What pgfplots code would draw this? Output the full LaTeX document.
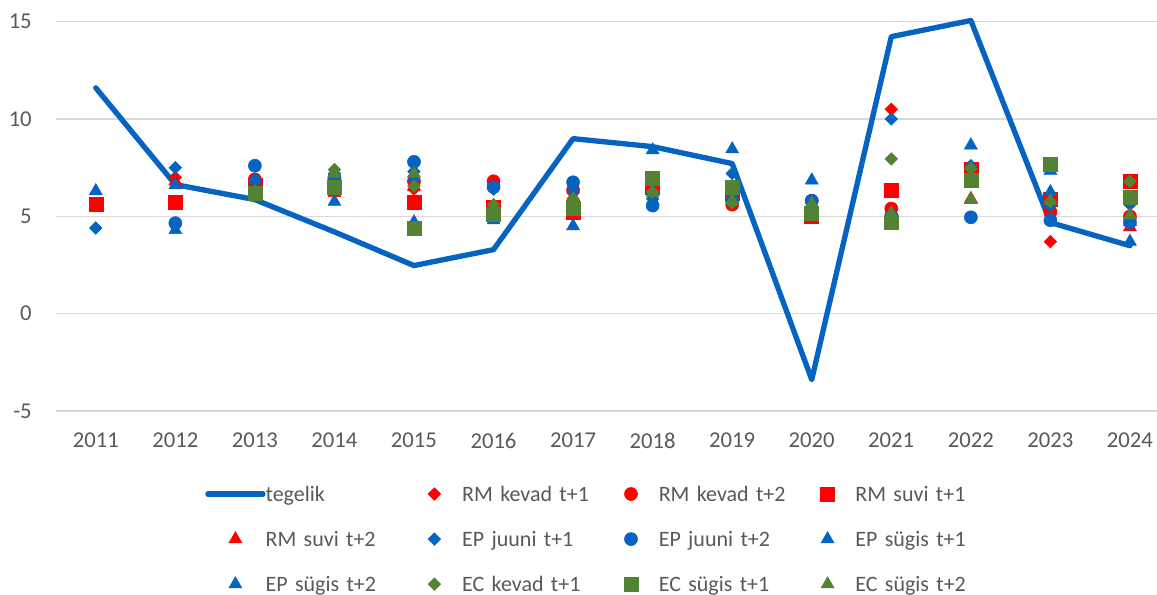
\documentclass[border=0pt]{standalone}
\usepackage{fontspec}
\setmainfont{Carlito}
\usepackage{pgfplots}
\pgfplotsset{compat=1.18}
\definecolor{cblue}{HTML}{0563C1}
\definecolor{cgreen}{HTML}{548235}
\definecolor{cred}{HTML}{FF0000}
\definecolor{ctext}{HTML}{595959}
\definecolor{cgrid}{HTML}{D9D9D9}
\begin{document}
\begin{tikzpicture}
\path[use as bounding box] (-42pt,-138pt) rectangle (825.75pt,308.25pt);
\begin{axis}[
  at={(0,0)}, anchor=south west,
  scale only axis, width=825.75pt, height=292pt,
  xmin=2010.5, xmax=2024.34, ymin=-5, ymax=15,
  xtick={2011,...,2024}, ytick={-5,0,5,10,15},
  x tick label style={/pgf/number format/1000 sep={}},
  /pgf/number format/assume math mode=true,
  axis line style={draw=none}, major tick length=0pt,
  ymajorgrids, grid style={cgrid, line width=1.1pt},
  tick label style={font=\fontsize{17}{20}\selectfont, text=ctext, inner sep=0pt},
  yticklabel style={anchor=east, xshift=-18pt},
  xticklabel style={anchor=north, yshift=-16.5pt},
  clip=false,
  legend columns=4,
  legend cell align=left,
  legend image code/.code={\path (0pt,0pt) (41.25pt,0pt);\draw[mark repeat=2,mark phase=2,#1] plot coordinates {(0pt,0pt)(20.6pt,0pt)(41.25pt,0pt)};},
  legend style={at={(axis description cs:0.1317,-0.186)}, anchor=north west,
    draw=none, fill=none, font=\fontsize{16.5}{19}\selectfont, text=ctext,
    column sep=0pt, row sep=22.3pt,
    nodes={inner sep=0pt, text width=105.8pt, text height=11pt, text depth=0.5pt}},
  dmd/.style={only marks, mark=square*, mark size=3.34pt, mark options={rotate=45}},
  crc/.style={only marks, mark=*, mark size=4.9pt},
  sqr/.style={only marks, mark=square*, mark size=5.25pt},
  tri/.style={only marks, mark=triangle*, mark size=5.6pt},
]
\addplot[cblue, line width=4pt, line cap=round, line join=round, mark=none] coordinates {
(2011,11.6)(2012,6.63)(2013,5.86)(2014,4.2)(2015,2.47)(2016,3.29)(2017,8.99)
(2018,8.58)(2019,7.71)(2020,-3.39)(2021,14.23)(2022,15.06)(2023,4.68)(2024,3.49)};
\addlegendentry{tegelik}
% RM kevad t+1
\addplot[dmd, cred] coordinates {
(2012,7.0)(2013,6.8)(2014,6.6)(2015,6.4)(2016,6.6)(2017,6.2)(2018,6.4)(2019,6.0)
(2020,5.5)(2021,10.5)(2022,7.3)(2023,3.7)(2024,4.6)};
\addlegendentry{RM kevad t+1}
% RM kevad t+2
\addplot[crc, cred] coordinates {
(2013,6.9)(2014,6.9)(2015,6.8)(2016,6.8)(2017,6.35)(2018,6.4)(2019,5.6)(2020,5.8)
(2021,5.4)(2022,7.2)(2023,5.2)(2024,5.0)};
\addlegendentry{RM kevad t+2}
% RM suvi t+1
\addplot[sqr, cred] coordinates {
(2011,5.6)(2012,5.7)(2013,6.6)(2014,6.5)(2015,5.7)(2016,5.45)(2017,5.2)(2018,6.5)
(2019,6.2)(2020,5.0)(2021,6.35)(2022,7.4)(2023,5.9)(2024,6.8)};
\addlegendentry{RM suvi t+1}
% RM suvi t+2
\addplot[tri, cred] coordinates {
(2012,6.8)(2013,6.8)(2014,6.2)(2015,6.5)(2016,5.5)(2017,6.0)(2018,6.3)(2019,6.0)
(2020,5.3)(2021,5.3)(2022,5.9)(2023,5.5)(2024,4.45)};
\addlegendentry{RM suvi t+2}
% EP juuni t+1
\addplot[dmd, cblue] coordinates {
(2011,4.4)(2012,7.5)(2013,6.9)(2014,7.2)(2015,7.3)(2016,6.4)(2017,6.3)(2018,5.9)
(2019,7.2)(2020,5.5)(2021,10.0)(2022,7.6)(2023,5.55)(2024,5.6)};
\addlegendentry{EP juuni t+1}
% EP juuni t+2
\addplot[crc, cblue] coordinates {
(2012,4.65)(2013,7.6)(2014,7.0)(2015,7.8)(2016,6.5)(2017,6.75)(2018,5.55)(2019,5.8)
(2020,5.8)(2021,5.0)(2022,4.95)(2023,4.8)(2024,4.7)};
\addlegendentry{EP juuni t+2}
% EP sugis t+1
\addplot[tri, cblue] coordinates {
(2011,6.3)(2012,6.6)(2013,6.85)(2014,7.1)(2015,4.7)(2016,4.8)(2017,4.5)(2018,8.4)
(2019,8.45)(2020,6.85)(2021,4.6)(2022,8.65)(2023,7.35)(2024,3.7)};
\addlegendentry{EP sügis t+1}
% EP sugis t+2
\addplot[tri, cblue] coordinates {
(2012,4.3)(2013,6.3)(2014,5.75)(2015,7.0)(2016,5.2)(2017,5.5)(2018,6.3)(2019,6.0)
(2020,5.5)(2021,5.1)(2022,7.0)(2023,6.25)(2024,4.7)};
\addlegendentry{EP sügis t+2}
% EC kevad t+1
\addplot[dmd, cgreen] coordinates {
(2013,6.3)(2014,7.4)(2015,6.55)(2016,5.6)(2017,5.9)(2018,6.25)(2019,5.7)(2020,5.4)
(2021,7.95)(2022,7.45)(2023,5.75)(2024,6.8)};
\addlegendentry{EC kevad t+1}
% EC sugis t+1
\addplot[sqr, cgreen] coordinates {
(2013,6.2)(2014,6.5)(2015,4.4)(2016,5.1)(2017,5.4)(2018,6.95)(2019,6.5)(2020,5.15)
(2021,4.7)(2022,6.85)(2023,7.65)(2024,6.0)};
\addlegendentry{EC sügis t+1}
% EC sugis t+2
\addplot[tri, cgreen] coordinates {
(2014,7.2)(2015,7.2)(2016,5.5)(2017,5.9)(2018,6.2)(2019,5.8)(2020,5.65)(2021,5.15)
(2022,5.85)(2023,5.8)(2024,5.05)};
\addlegendentry{EC sügis t+2}
\end{axis}
\end{tikzpicture}
\end{document}
